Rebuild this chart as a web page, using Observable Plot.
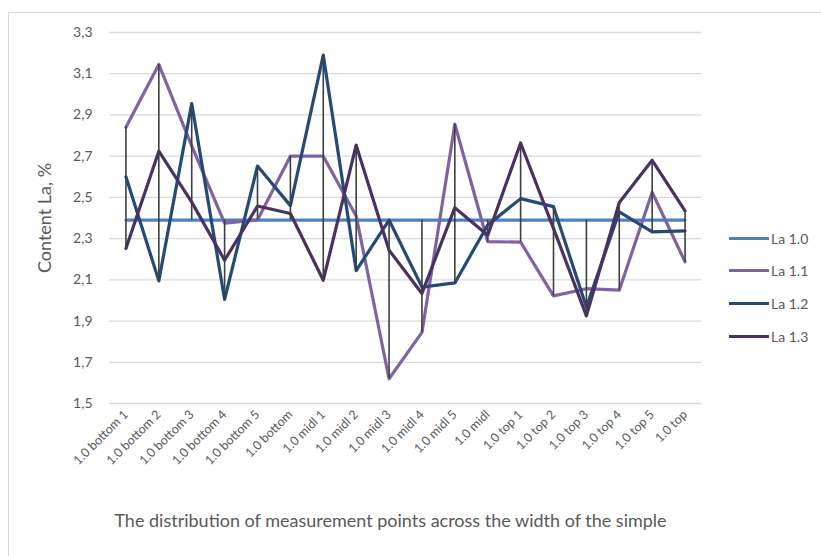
<!DOCTYPE html>
<html>
<head>
<meta charset="utf-8">
<script src="https://cdn.jsdelivr.net/npm/d3@7"></script>
<script src="https://cdn.jsdelivr.net/npm/@observablehq/plot@0.6"></script>
<style>
  html, body { margin: 0; padding: 0; background: #fff; }
  #wrap { position: relative; width: 821px; height: 556px; overflow: hidden; font-family: Lato, "Open Sans", sans-serif; }
  #border { position: absolute; left: 8px; top: 12px; width: 840px; height: 600px; border: 1px solid #d9d9d9; box-sizing: border-box; pointer-events: none; }
  #legend { position: absolute; left: 729px; top: 222px; font-size: 14px; color: #595959; }
  .item { display: flex; align-items: center; height: 32.6px; }
  .swatch { width: 40px; height: 3px; margin-right: 2px; }
</style>
</head>
<body>
<div id="wrap"><div id="border"></div><div id="legend"></div></div>
<script>
const categories = ["1.0 bottom 1","1.0 bottom 2","1.0 bottom 3","1.0 bottom 4","1.0 bottom 5","1.0 bottom",
  "1.0 midl 1","1.0 midl 2","1.0 midl 3","1.0 midl 4","1.0 midl 5","1.0 midl",
  "1.0 top 1","1.0 top 2","1.0 top 3","1.0 top 4","1.0 top 5","1.0 top"];
const seriesNames = ["La 1.0", "La 1.1", "La 1.2", "La 1.3"];
const la10 = [2.39,2.39,2.39,2.39,2.39,2.39,2.39,2.39,2.39,2.39,2.39,2.39,2.39,2.39,2.39,2.39,2.39,2.39];
const la11 = [2.84,3.145,2.75,2.375,2.39,2.70,2.70,2.41,1.62,1.845,2.855,2.285,2.283,2.022,2.057,2.05,2.525,2.187];
const la12 = [2.60,2.095,2.955,2.005,2.652,2.46,3.19,2.145,2.39,2.065,2.085,2.366,2.494,2.455,1.968,2.43,2.333,2.338];
const la13 = [2.252,2.724,2.477,2.195,2.458,2.422,2.098,2.753,2.244,2.034,2.45,2.316,2.764,2.35,1.925,2.475,2.68,2.435];
const colors = ["#4f81bd", "#8064a2", "#254a76", "#493263"];
const yTicks = [1.5,1.7,1.9,2.1,2.3,2.5,2.7,2.9,3.1,3.3];
const xTitle = "The distribution of measurement points across the width of the simple";
const yTitle = "Content La, %";

const allSeries = [la10, la11, la12, la13];
const rows = [];
allSeries.forEach((vals, s) => vals.forEach((v, i) => rows.push({cat: categories[i], value: v, series: seriesNames[s]})));
const hilo = categories.map((c, i) => {
  const vs = allSeries.map(a => a[i]);
  return {cat: c, lo: d3.min(vs), hi: d3.max(vs)};
});

const chart = Plot.plot({
  width: 821,
  height: 556,
  marginLeft: 109,
  marginRight: 120,
  marginTop: 32,
  marginBottom: 153,
  style: {fontFamily: "Lato, 'Open Sans', sans-serif", fontSize: "13px", color: "#595959", background: "transparent"},
  x: {type: "point", domain: categories, padding: 0.5, align: 0.5, round: false, label: null},
  y: {domain: [1.5, 3.3], ticks: yTicks, label: null},
  color: {domain: seriesNames, range: colors},
  marks: [
    Plot.gridY(yTicks, {stroke: "#d9d9d9", strokeOpacity: 1, strokeWidth: 1.3}),
    Plot.axisY(yTicks, {tickSize: 0, tickPadding: 17, tickFormat: d => d.toFixed(1).replace(".", ","), fontSize: 14, label: null}),
    Plot.axisX({tickSize: 0, tickPadding: 9, tickRotate: -45, fontSize: 12.5, label: null}),
    Plot.text([yTitle], {frameAnchor: "left", textAnchor: "middle", dx: -64, dy: 0, rotate: -90, fontSize: 18, fill: "#595959"}),
    Plot.text([xTitle], {frameAnchor: "bottom", dx: -15, dy: 123, fontSize: 18, fill: "#595959"}),
    Plot.line(rows, {x: "cat", y: "value", z: "series", stroke: "series", strokeWidth: 3.2, strokeLinejoin: "round", strokeLinecap: "round"}),
    Plot.ruleX(hilo, {x: "cat", y1: "lo", y2: "hi", stroke: "#3f3f3f", strokeWidth: 1.6})
  ]
});
document.getElementById("wrap").prepend(chart);
chart.style.position = "absolute";
chart.style.left = "0px";
chart.style.top = "0px";

const legend = document.getElementById("legend");
seriesNames.forEach((n, i) => {
  const it = document.createElement("div");
  it.className = "item";
  const sw = document.createElement("div");
  sw.className = "swatch";
  sw.style.background = colors[i];
  const t = document.createElement("span");
  t.textContent = n;
  it.appendChild(sw); it.appendChild(t);
  legend.appendChild(it);
});
</script>
</body>
</html>
